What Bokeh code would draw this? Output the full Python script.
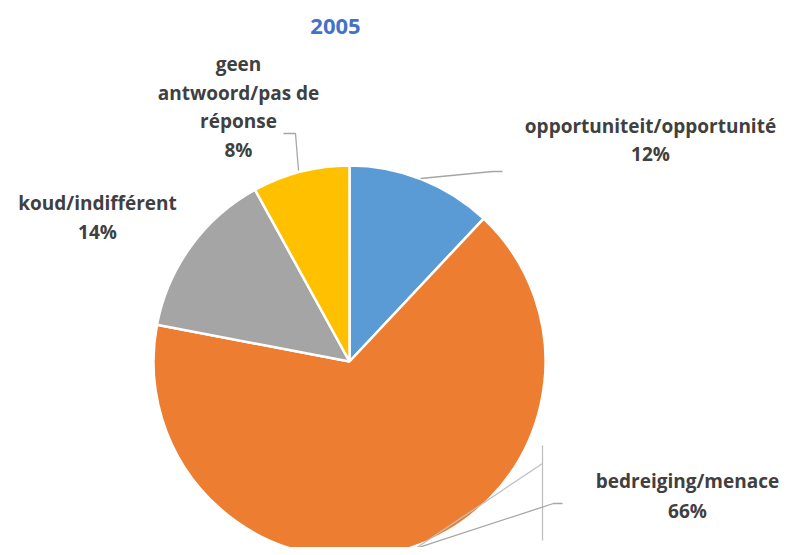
import math
from bokeh.plotting import figure
from bokeh.models import Range1d, ColumnDataSource
from bokeh.core.properties import value
from bokeh.embed import file_html
from bokeh.resources import INLINE

title = "2005"
categories = ["opportuniteit/opportunité", "bedreiging/menace", "koud/indifférent", "geen antwoord/pas de réponse"]
label_lines = [["opportuniteit/opportunité"], ["bedreiging/menace"], ["koud/indifférent"], ["geen", "antwoord/pas de", "réponse"]]
values = [12, 66, 14, 8]
colors = ["#5B9BD5", "#ED7D31", "#A5A5A5", "#FFC000"]

W, H = 783, 547
p = figure(width=W, height=H, output_backend="svg", toolbar_location=None,
           x_range=Range1d(0, W), y_range=Range1d(0, H), min_border=0)
p.axis.visible = False
p.grid.visible = False
p.outline_line_color = None
p.background_fill_color = "white"

def sy(y):
    return H - y

cx, cy, r = 349, sy(361), 196
total = sum(values)
starts, ends = [], []
acc = 0
for v in values:
    a0 = math.pi / 2 - 2 * math.pi * acc / total
    acc += v
    a1 = math.pi / 2 - 2 * math.pi * acc / total
    starts.append(a0)
    ends.append(a1)

src = ColumnDataSource(dict(start=starts, end=ends, color=colors))
p.wedge(x=cx, y=cy, radius=r, start_angle="start", end_angle="end", direction="clock",
        fill_color="color", line_color="white", line_width=2.5, source=src)

# leader lines
lc = "#A6A6A6"
p.line([420, 492, 502], [sy(178), sy(171), sy(171)], line_color=lc, line_width=1.3)
p.line([298, 295, 283], [sy(170), sy(133), sy(133)], line_color=lc, line_width=1.3)
p.line([415, 542], [sy(548), sy(463)], line_color="#BFBFBF", line_width=1.3)
p.line([542, 542], [sy(445), sy(540)], line_color="#BFBFBF", line_width=1.3)
p.line([415, 553, 562], [sy(548), sy(503), sy(503)], line_color=lc, line_width=1.3)

font = value("Open Sans")
fs = "19px"
tc = "#404040"

def label(x, ys, lines):
    for yy, t in zip(ys, lines):
        p.text(x=[x], y=[yy], text=[t], text_align="center", text_baseline="middle",
               text_font=font, text_font_size=fs, text_font_style="bold", text_color=tc)

label(650, [sy(125), sy(153)], label_lines[0] + [f"{values[0]}%"])
label(687, [sy(480), sy(510)], label_lines[1] + [f"{values[1]}%"])
label(97, [sy(202), sy(231)], label_lines[2] + [f"{values[2]}%"])
label(238, [sy(63), sy(92), sy(120), sy(149)], label_lines[3] + [f"{values[3]}%"])

p.text(x=[335], y=[sy(26)], text=[title], text_align="center", text_baseline="middle",
       text_font=font, text_font_size="22px", text_font_style="bold", text_color="#4472C4")

open("out.html", "w").write(file_html(p, INLINE))
